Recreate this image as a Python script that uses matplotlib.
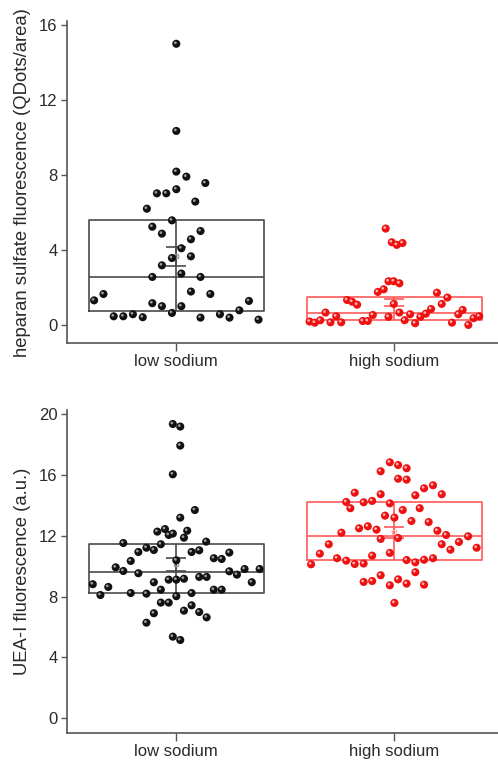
import numpy as np
import matplotlib
matplotlib.use("Agg")
import matplotlib.pyplot as plt
from matplotlib.transforms import offset_copy

plt.rcParams['font.family'] = ['Liberation Sans', 'DejaVu Sans']

categories = ["low sodium", "high sodium"]

# ---- top panel: heparan sulfate ----
hs_low = [15.0, 10.35, 8.18, 7.91, 7.57, 7.02, 7.02, 7.24, 6.58, 6.20, 5.58, 5.24, 4.87, 5.01,
          4.57, 4.09, 3.57, 3.66, 3.18, 2.74, 2.56, 2.56, 1.78, 1.65, 1.65, 1.31, 1.28, 1.16,
          1.00, 1.00, 0.64, 0.78, 0.46, 0.46, 0.57, 0.41, 0.39, 0.57, 0.39, 0.28]
hs_low_jit = [0.0, 0.0, 0.0, 0.046, 0.133, -0.089, -0.046, 0.0, 0.087, -0.135, -0.020, -0.110,
              -0.066, 0.111, 0.067, 0.023, -0.020, 0.067, -0.066, 0.023, -0.110, 0.111, 0.067,
              0.156, -0.334, -0.377, 0.333, -0.110, -0.066, 0.023, -0.020, 0.289, -0.287,
              -0.243, -0.199, -0.154, 0.111, 0.200, 0.244, 0.377]
hs_high = [5.14, 4.41, 4.27, 4.37, 2.33, 2.33, 2.22, 1.90, 1.76, 1.72, 1.46, 1.33, 1.24, 1.08,
           1.12, 1.12, 0.66, 0.46, 0.53, 0.43, 0.66, 0.57, 0.85, 0.60, 0.43, 0.57, 0.80, 0.18,
           0.12, 0.25, 0.14, 0.14, 0.21, 0.21, 0.25, 0.09, 0.12, 0.0, 0.36, 0.46]
hs_high_jit = [-0.040, -0.012, 0.011, 0.037, -0.027, -0.003, 0.023, -0.049, -0.076, 0.195, 0.243,
               -0.217, -0.194, -0.171, 0.217, -0.003, -0.316, -0.267, -0.099, -0.027, 0.023,
               0.072, 0.168, 0.144, 0.119, 0.293, 0.313, -0.389, -0.365, -0.340, -0.293,
               -0.244, -0.145, -0.122, 0.047, 0.095, 0.264, 0.339, 0.363, 0.389]
# box summaries: q1, median, q3, mean, SE
hs_box = [(0.75, 2.58, 5.58, 3.66, 0.52), (0.27, 0.62, 1.48, 1.20, 0.19)]

# ---- bottom panel: UEA-I ----
uea_low = [19.36, 19.19, 17.94, 16.05, 13.70, 13.20, 12.28, 12.45, 12.06, 12.15, 12.34, 11.88,
           11.53, 11.45, 11.62, 11.22, 11.07, 10.94, 10.94, 11.05, 10.90, 10.53, 10.48, 10.39,
           10.35, 9.93, 9.69, 9.54, 9.82, 9.82, 9.67, 9.45, 9.30, 9.30, 9.12, 9.12, 9.18, 8.95,
           8.95, 8.82, 8.64, 8.46, 8.46, 8.46, 8.11, 8.24, 8.20, 8.24, 8.03, 7.61, 7.61, 7.43,
           7.08, 6.99, 6.64, 6.91, 6.29, 5.37, 5.15]
uea_low_jit = [-0.016, 0.018, 0.018, -0.016, 0.085, 0.018, -0.087, -0.052, -0.035, -0.016, 0.050,
               0.035, -0.243, -0.071, 0.137, -0.137, -0.103, -0.174, 0.070, 0.105, 0.243, 0.172,
               0.208, 0.0, -0.209, -0.278, -0.243, -0.174, 0.313, 0.382, 0.243, 0.278, 0.105,
               0.139, -0.035, 0.0, 0.035, -0.103, 0.346, -0.383, -0.312, -0.071, 0.172, 0.208,
               -0.348, -0.209, -0.137, 0.070, 0.0, -0.071, -0.035, 0.070, 0.035, 0.105, 0.139,
               -0.103, -0.137, -0.016, 0.018]
uea_high = [16.84, 16.66, 16.45, 16.25, 15.76, 15.70, 15.33, 15.13, 14.67, 14.74, 14.84, 14.74,
            14.23, 14.21, 14.30, 14.14, 13.82, 13.70, 13.82, 13.33, 13.20, 12.98, 12.91, 12.50,
            12.63, 12.41, 12.21, 12.34, 12.06, 11.97, 11.80, 11.86, 11.60, 11.45, 11.45, 11.09,
            11.22, 10.83, 10.88, 10.70, 10.53, 10.37, 10.15, 10.18, 10.41, 10.26, 10.43, 10.53,
            10.13, 9.61, 9.41, 8.97, 9.03, 9.14, 8.75, 8.86, 8.79, 7.59]
uea_high_jit = [-0.021, 0.017, 0.056, -0.063, 0.017, 0.056, 0.177, 0.136, 0.096, 0.217, -0.182,
                -0.063, -0.221, -0.141, -0.102, -0.021, -0.202, 0.038, 0.116, -0.043, 0.0, 0.078,
                0.157, -0.162, -0.122, -0.082, -0.243, 0.197, 0.237, 0.338, -0.063, 0.017, 0.296,
                -0.301, 0.217, 0.257, 0.377, -0.342, -0.021, -0.102, -0.263, -0.221, -0.182,
                -0.141, 0.056, 0.096, 0.136, 0.177, -0.382, 0.096, -0.063, -0.141, -0.102, 0.017,
                -0.021, 0.056, 0.136, 0.0]
uea_box = [(8.22, 9.65, 11.45, 10.12, 0.41), (10.39, 11.97, 14.21, 12.24, 0.35)]

positions = [1, 2]
main_colors = ["#111111", "#ee1111"]
hi_colors = ["#9a9a9a", "#ffb0b0"]
box_colors = ["#4a4a4a", "#ff5a5a"]
text_color = "#2a2a2a"
spine_color = "#555555"

fig = plt.figure(figsize=(4.98, 7.6), dpi=100)
ax_top = fig.add_axes([0.1351, 0.5483, 0.8649, 0.4237])
ax_bot = fig.add_axes([0.1351, 0.0359, 0.8649, 0.4250])


def draw_panel(ax, groups, jits, boxes, ylim, yticks, ylabel):
    for i, (vals, jit, bx) in enumerate(zip(groups, jits, boxes)):
        pos = positions[i]
        q1, med, q3, mean, se = bx
        stats = [dict(med=med, q1=q1, q3=q3, whislo=q1, whishi=q3, fliers=[])]
        ax.bxp(stats, positions=[pos], widths=0.8, showcaps=False, showfliers=False,
               boxprops=dict(color=box_colors[i], linewidth=1.2),
               medianprops=dict(color=box_colors[i], linewidth=1.2),
               whiskerprops=dict(color=box_colors[i], linewidth=1.2),
               manage_ticks=False)
        ax.vlines(pos, q1, q3, color=box_colors[i], linewidth=1.2, zorder=2)
        ax.errorbar([pos], [mean], yerr=[se], fmt='s', ms=3, mfc='none',
                    mec=hi_colors[i], ecolor=box_colors[i], elinewidth=1.2,
                    capsize=7, capthick=1.2, zorder=2)
        xs = pos + np.asarray(jit)
        ax.scatter(xs, vals, s=34, color=main_colors[i], edgecolors='none', zorder=3)
        tr = offset_copy(ax.transData, fig=fig, x=-1.0, y=1.0, units='dots')
        ax.scatter(xs, vals, s=4, color=hi_colors[i], edgecolors='none', zorder=4,
                   transform=tr)
    ax.set_xlim(0.5, 2.475)
    ax.set_ylim(*ylim)
    ax.set_yticks(yticks)
    ax.set_xticks(positions)
    ax.set_xticklabels(categories)
    ax.set_ylabel(ylabel, fontsize=13.3, color=text_color, labelpad=6)
    for s in ['top', 'right']:
        ax.spines[s].set_visible(False)
    for s in ['left', 'bottom']:
        ax.spines[s].set_color(spine_color)
        ax.spines[s].set_linewidth(1.2)
    ax.tick_params(axis='y', direction='out', length=4, width=1, color=spine_color,
                   labelsize=12, labelcolor=text_color, pad=3)
    ax.tick_params(axis='x', direction='out', length=6, width=1, color=spine_color,
                   labelsize=12, labelcolor=text_color, pad=2)


draw_panel(ax_top, [hs_low, hs_high], [hs_low_jit, hs_high_jit], hs_box,
           (-0.98, 16.2), [0, 4, 8, 12, 16], "heparan sulfate fluorescence (QDots/area)")
draw_panel(ax_bot, [uea_low, uea_high], [uea_low_jit, uea_high_jit], uea_box,
           (-0.95, 20.3), [0, 4, 8, 12, 16, 20], "UEA-I fluorescence (a.u.)")

fig.savefig("out.png", dpi=100)
